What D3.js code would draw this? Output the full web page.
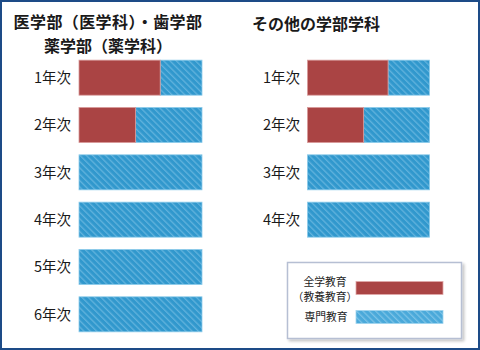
<!DOCTYPE html>
<html>
<head>
<meta charset="utf-8">
<script src="https://cdn.jsdelivr.net/npm/d3@7"></script>
<style>
  html, body { margin: 0; padding: 0; background: #fff; }
  svg { display: block; }
  text { font-family: "Noto Sans CJK JP", "Noto Sans", sans-serif; fill: #1a1a1a; }
</style>
</head>
<body>
<svg id="chart" width="480" height="350"></svg>
<script>
// Share of general (全学) vs. specialised (専門) education per year, in percent
const medYears = ["1年次", "2年次", "3年次", "4年次", "5年次", "6年次"];
const medGeneral = [66, 46, 0, 0, 0, 0];
const otherYears = ["1年次", "2年次", "3年次", "4年次"];
const otherGeneral = [66, 46, 0, 0];
const medTitle = ["医学部（医学科）・歯学部", "薬学部（薬学科）"];
const otherTitle = ["その他の学部学科"];
const legendLabels = [["全学教育", "（教養教育）"], ["専門教育"]];

const W = 480, H = 350;
const RED = "#aa4444";
const BLUE = "#3198cd";

const svg = d3.select("#chart");
const defs = svg.append("defs");

function stripePattern(id, base, stripe) {
  const p = defs.append("pattern")
    .attr("id", id)
    .attr("patternUnits", "userSpaceOnUse")
    .attr("width", 4.5).attr("height", 4.5)
    .attr("patternTransform", "rotate(-45)");
  p.append("rect").attr("width", 4.5).attr("height", 4.5).attr("fill", base);
  p.append("rect").attr("width", 1.3).attr("height", 4.5).attr("fill", stripe);
}
stripePattern("stripeBar", BLUE, "#62b3dd");
stripePattern("stripeKey", "#4aa9da", "#7cc3e6");

const shadow = defs.append("filter").attr("id", "keyShadow")
  .attr("x", "-10%").attr("y", "-10%").attr("width", "125%").attr("height", "130%");
shadow.append("feGaussianBlur").attr("in", "SourceAlpha").attr("stdDeviation", 1.5);
shadow.append("feOffset").attr("dx", 1.5).attr("dy", 1.5).attr("result", "b");
shadow.append("feComponentTransfer").append("feFuncA").attr("type", "linear").attr("slope", 0.25);
const merge = shadow.append("feMerge");
merge.append("feMergeNode");
merge.append("feMergeNode").attr("in", "SourceGraphic");

// Outer frame
svg.append("rect")
  .attr("x", 1).attr("y", 1).attr("width", W - 2).attr("height", H - 2)
  .attr("fill", "#fff").attr("stroke", "#1d4b87").attr("stroke-width", 2);

function drawGroup(years, general, x0, x1, labelX) {
  const x = d3.scaleLinear().domain([0, 100]).range([x0, x1]);
  const y = d3.scaleBand().domain(years)
    .range([54, 54 + years.length * 47.33])
    .paddingInner(0.26).paddingOuter(0.13);

  const g = svg.append("g");
  const rows = g.selectAll("g.row").data(years).enter().append("g").attr("class", "row");

  rows.append("rect")
    .attr("x", (d, i) => x(general[i]))
    .attr("y", d => y(d))
    .attr("width", (d, i) => x(100) - x(general[i]))
    .attr("height", y.bandwidth())
    .attr("fill", "url(#stripeBar)")
    .attr("stroke", "#8ccbea").attr("stroke-width", 0.8);

  rows.filter((d, i) => general[i] > 0).append("rect")
    .attr("x", x(0))
    .attr("y", d => y(d))
    .attr("width", d => x(general[years.indexOf(d)]) - x(0))
    .attr("height", y.bandwidth())
    .attr("fill", RED)
    .attr("stroke", "#d79a9a").attr("stroke-width", 0.8);

  rows.append("text")
    .attr("x", labelX)
    .attr("y", d => y(d) + y.bandwidth() / 2)
    .attr("dy", "0.36em")
    .attr("text-anchor", "end")
    .attr("font-size", 14.5)
    .text(d => d);
}

drawGroup(medYears, medGeneral, 79, 202, 71);
drawGroup(otherYears, otherGeneral, 307.5, 429.5, 300);

// Group titles
svg.append("g").selectAll("text").data(medTitle).enter().append("text")
  .attr("x", 108).attr("y", (d, i) => 28 + i * 23.5)
  .attr("text-anchor", "middle")
  .attr("font-size", 16).attr("font-weight", "bold")
  .attr("letter-spacing", (d, i) => i === 0 ? 0.4 : 0)
  .text(d => d);

svg.append("g").selectAll("text").data(otherTitle).enter().append("text")
  .attr("x", 252).attr("y", 30)
  .attr("font-size", 16).attr("font-weight", "bold")
  .text(d => d);

// Legend
const key = svg.append("g");
key.append("rect")
  .attr("x", 287.5).attr("y", 262.5).attr("width", 174).attr("height", 76)
  .attr("fill", "#fff").attr("stroke", "#b6bfd3").attr("stroke-width", 1.5)
  .attr("filter", "url(#keyShadow)");

key.append("rect")
  .attr("x", 356).attr("y", 281.5).attr("width", 87).attr("height", 13)
  .attr("fill", RED).attr("stroke", "#e0a8a8").attr("stroke-width", 0.8);
key.append("rect")
  .attr("x", 356).attr("y", 310.5).attr("width", 87).attr("height", 13)
  .attr("fill", "url(#stripeKey)").attr("stroke", "#a0d4ee").attr("stroke-width", 0.8);

key.selectAll("text.l0").data(legendLabels[0]).enter().append("text")
  .attr("class", "l0")
  .attr("x", 325).attr("y", (d, i) => 285.5 + i * 15.5)
  .attr("text-anchor", "middle").attr("font-size", 10.8)
  .text(d => d);
key.selectAll("text.l1").data(legendLabels[1]).enter().append("text")
  .attr("class", "l1")
  .attr("x", 326).attr("y", 321)
  .attr("text-anchor", "middle").attr("font-size", 10.8)
  .text(d => d);
</script>
</body>
</html>
